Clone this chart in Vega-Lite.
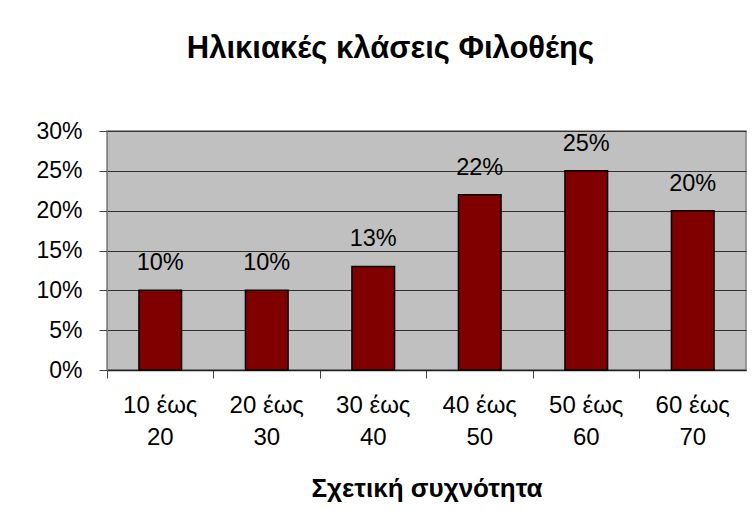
{
  "$schema": "https://vega.github.io/schema/vega-lite/v6.json",
  "autosize": {"type": "none"},
  "width": 639,
  "height": 239,
  "padding": {"left": 107, "top": 131, "right": 9, "bottom": 159},
  "background": "white",
  "title": {
    "text": "Ηλικιακές κλάσεις Φιλοθέης",
    "font": "Liberation Sans",
    "fontSize": 31,
    "fontWeight": "bold",
    "color": "black",
    "anchor": "middle",
    "frame": "group",
    "baseline": "alphabetic",
    "dx": -36,
    "offset": 31
  },
  "data": {
    "values": [
      {"label": "10 έως 20", "pct": 0.10},
      {"label": "20 έως 30", "pct": 0.10},
      {"label": "30 έως 40", "pct": 0.13},
      {"label": "40 έως 50", "pct": 0.22},
      {"label": "50 έως 60", "pct": 0.25},
      {"label": "60 έως 70", "pct": 0.20}
    ]
  },
  "encoding": {
    "x": {
      "field": "label",
      "type": "nominal",
      "sort": null,
      "scale": {"paddingInner": 0, "paddingOuter": 0},
      "axis": {
        "title": "Σχετική συχνότητα",
        "titleFont": "Liberation Sans",
        "titleFontSize": 26,
        "titleFontWeight": "bold",
        "titleColor": "black",
        "titlePadding": 26,
        "labelExpr": "[substring(datum.label,0,6), substring(datum.label,7)]",
        "labelFont": "Liberation Sans",
        "labelFontSize": 24,
        "labelColor": "black",
        "labelAngle": 0,
        "labelLineHeight": 32,
        "labelPadding": 15,
        "bandPosition": 0,
        "tickSize": 8,
        "tickColor": "#404040",
        "domainColor": "#202020",
        "domainWidth": 1.5,
        "grid": false
      }
    },
    "y": {
      "field": "pct",
      "type": "quantitative",
      "scale": {"domain": [0, 0.3], "nice": false},
      "axis": {
        "title": null,
        "values": [0, 0.05, 0.1, 0.15, 0.2, 0.25, 0.3],
        "format": ".0%",
        "labelFont": "Liberation Sans",
        "labelFontSize": 23,
        "labelColor": "black",
        "labelPadding": 17,
        "tickSize": 8,
        "tickColor": "#404040",
        "domainColor": "#808080",
        "grid": true,
        "gridColor": "#303030",
        "gridWidth": 1.2
      }
    }
  },
  "layer": [
    {
      "mark": {"type": "bar", "width": {"band": 0.4}, "color": "#800000", "stroke": "black", "strokeWidth": 1.5}
    },
    {
      "mark": {"type": "text", "baseline": "alphabetic", "dy": -20, "font": "Liberation Sans", "fontSize": 23.5, "color": "black"},
      "encoding": {"text": {"field": "pct", "type": "quantitative", "format": ".0%"}}
    }
  ],
  "config": {
    "view": {"fill": "#C0C0C0", "stroke": "#808080", "strokeWidth": 1.5}
  }
}
